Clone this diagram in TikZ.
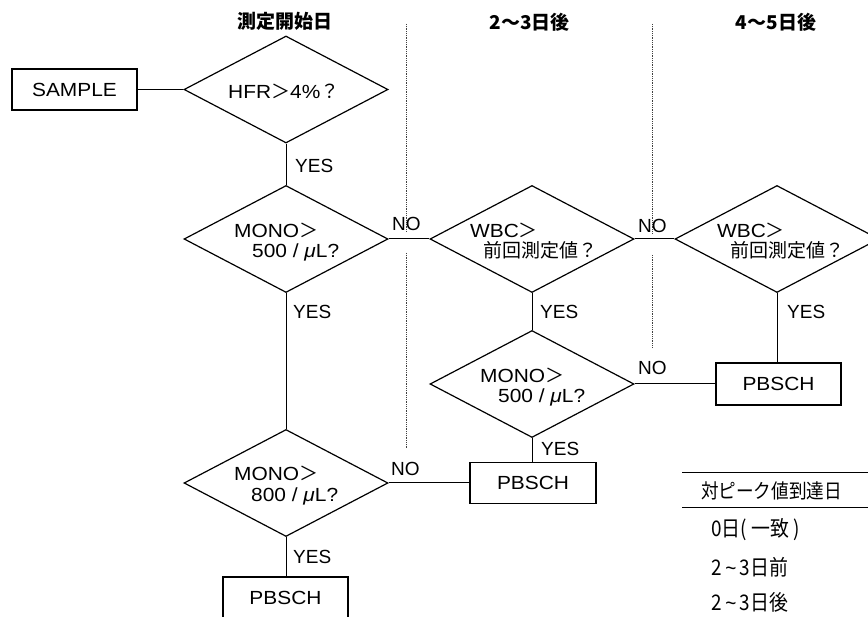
\documentclass[tikz,border=0pt]{standalone}
\usepackage{fontspec}
\setmainfont{Liberation Sans}
\newfontfamily\wide{Liberation Sans}[FakeStretch=1.1]
\newfontfamily\jp{Noto Sans CJK JP}
\newfontfamily\jpc{Noto Sans CJK JP}[FakeStretch=0.88]
\usetikzlibrary{shapes.geometric}
\begin{document}
\begin{tikzpicture}[x=1pt,y=-1pt,
  dia/.style={diamond, draw, line width=1.2pt, minimum width=204pt, minimum height=107pt, inner sep=0pt},
  box/.style={rectangle, draw, line width=1.1pt, minimum width=125pt, minimum height=41pt, inner sep=0pt, font=\wide\fontsize{19}{19}\selectfont},
  lbl/.style={anchor=base west, inner sep=0pt, font=\fontsize{19}{19}\selectfont},
  txt/.style={anchor=base west, inner sep=0pt, font=\wide\fontsize{19}{19}\selectfont},
  conn/.style={line width=1pt},
  sepline/.style={densely dotted, line width=0.8pt, black!75},
  head/.style={font=\jp\bfseries\fontsize{19}{19}\selectfont, inner sep=0pt},
  tbl/.style={font=\jpc\fontsize{20}{20}\selectfont, inner sep=0pt},
  row/.style={font=\jpc\fontsize{21.5}{21.5}\selectfont, inner sep=0pt, anchor=west}
]
\path[use as bounding box] (0,0) rectangle (868,617);
\clip (0,0) rectangle (868,617);

% column separators
\draw[sepline] (406,24) -- (406,232);
\draw[sepline] (406,253) -- (406,448);
\draw[sepline] (652,24) -- (652,233);
\draw[sepline] (652,255) -- (652,348);

% headings
\node[head] (h1) at (285,21) {測定開始日};
\node[head] (h2) at (529.5,22) {2～3日後};
\node[head] (h3) at (776,22) {4～5日後};

% shapes
\node[box] (sample) at (74.5,89.5) {SAMPLE};
\node[dia] (hfr) at (286,89.5) {};
\node[dia] (mono1) at (286,239) {};
\node[dia] (wbc1) at (532,239) {};
\node[dia] (wbc2) at (777,239) {};
\node[dia] (mono2) at (532,384) {};
\node[dia] (mono3) at (286,483) {};
\node[box, minimum height=42pt] (pb2) at (778.5,384) {PBSCH};
\node[box, minimum width=126pt] (pb1) at (533,483) {PBSCH};
\node[box] (pb3) at (285.5,597.5) {PBSCH};

% diamond texts
\node[txt] (thfr) at (228,99) {HFR{\jp ＞}4\%{\jp ？}};
\node[txt] (tm1a) at (234,238) {MONO{\jp ＞}};
\node[txt] (tm1b) at (252,258) {500 / {\itshape μ}L?};
\node[txt] (tw1a) at (470,238) {WBC{\jp ＞}};
\node[txt] (tw1b) at (483,258) {\jp 前回測定値？};
\node[txt] (tw2a) at (717,238) {WBC{\jp ＞}};
\node[txt] (tw2b) at (730,258) {\jp 前回測定値？};
\node[txt] (tm2a) at (480,383) {MONO{\jp ＞}};
\node[txt] (tm2b) at (498,403) {500 / {\itshape μ}L?};
\node[txt] (tm3a) at (234,481) {MONO{\jp ＞}};
\node[txt] (tm3b) at (251,502) {800 / {\itshape μ}L?};

% connectors
\draw[conn] (sample.east) -- (hfr.west);
\draw[conn] (hfr.south) -- (mono1.north);
\draw[conn] (mono1.east) -- (wbc1.west);
\draw[conn] (wbc1.east) -- (wbc2.west);
\draw[conn] (wbc1.south) -- (mono2.north);
\draw[conn] (wbc2.south) -- (wbc2.south |- pb2.north);
\draw[conn] (mono2.east) -- (mono2.east -| pb2.west);
\draw[conn] (mono1.south) -- (mono3.north);
\draw[conn] (mono3.east) -- (mono3.east -| pb1.west);
\draw[conn] (mono2.south) -- (mono2.south |- pb1.north);
\draw[conn] (mono3.south) -- (mono3.south |- pb3.north);

% edge labels
\node[lbl] (y1) at (295,173) {YES};
\node[lbl] (y2) at (293,319) {YES};
\node[lbl] (y3) at (540,319) {YES};
\node[lbl] (y4) at (787,319) {YES};
\node[lbl] (y5) at (541,456) {YES};
\node[lbl] (y6) at (293,563) {YES};
\node[lbl] (n1) at (392,231) {NO};
\node[lbl] (n2) at (638,233) {NO};
\node[lbl] (n3) at (638,375) {NO};
\node[lbl] (n4) at (391,476) {NO};

% table
\draw[line width=1pt] (682,473) -- (868,473);
\draw[line width=1pt] (682,508) -- (868,508);
\node[tbl] (th) at (771.5,491) {対ピーク値到達日};
\node[row] (r1) at (711,530) {0日( 一致 )};
\node[row] (r2) at (711,567) {2\,{\fontspec{Liberation Sans}[FakeStretch=0.88]\textasciitilde}\,3日前};
\node[row] (r3) at (711,602) {2\,{\fontspec{Liberation Sans}[FakeStretch=0.88]\textasciitilde}\,3日後};
\end{tikzpicture}
\end{document}
